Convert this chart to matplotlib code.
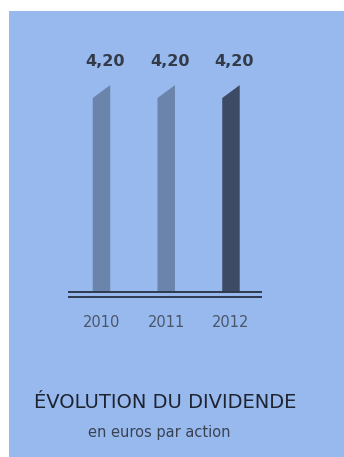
import matplotlib
matplotlib.use("Agg")
import matplotlib.pyplot as plt

# data
years = ["2010", "2011", "2012"]
dividend = [4.20, 4.20, 4.20]
value_labels = ["4,20", "4,20", "4,20"]
bar_colors = ["#6b84ab", "#6b84ab", "#3e4b65"]

W, H = 344, 457
fig = plt.figure(figsize=(W / 100, H / 100), dpi=100)
fig.patch.set_facecolor("white")

# blue panel
bg = fig.add_axes([9 / W, 0, 1 - 9 / W, 1 - 11 / H])
bg.set_facecolor("#98b9ee")
bg.set_xticks([])
bg.set_yticks([])
for s in bg.spines.values():
    s.set_visible(False)

# axes placed in pixel terms
ax = fig.add_axes([68 / W, (H - 300) / H, 194 / W, 260 / H])
ax.set_facecolor("none")
ax.set_xlim(-0.517, 2.479)
ax.set_ylim(-0.173, 5.456)
ax.axis("off")

bar_w = 0.27
slant = 0.28
for i, (v, c) in enumerate(zip(dividend, bar_colors)):
    xl, xr = i - bar_w / 2, i + bar_w / 2
    ax.fill([xl, xr, xr, xl], [0, 0, v + slant, v], color=c, lw=0)
    ax.annotate(value_labels[i], (i, v + slant), xytext=(2.5, 17),
                textcoords="offset points", ha="center", va="center",
                fontsize=11.5, fontweight="bold", color="#333b4a")
    ax.text(i, -0.66, years[i], ha="center", va="center",
            fontsize=10.5, color="#4b5568", clip_on=False)

# double baseline
ax.axhline(0, color="#2f3a4e", lw=1.4)
ax.axhline(-0.108, color="#2f3a4e", lw=1.4)

fig.text(165 / W, 1 - 403 / H, "ÉVOLUTION DU DIVIDENDE", ha="center",
         va="center", fontsize=14, color="#1e2430")
fig.text(159 / W, 1 - 432 / H, "en euros par action", ha="center",
         va="center", fontsize=10.5, color="#3a4252")

fig.savefig("out.png", dpi=100)
